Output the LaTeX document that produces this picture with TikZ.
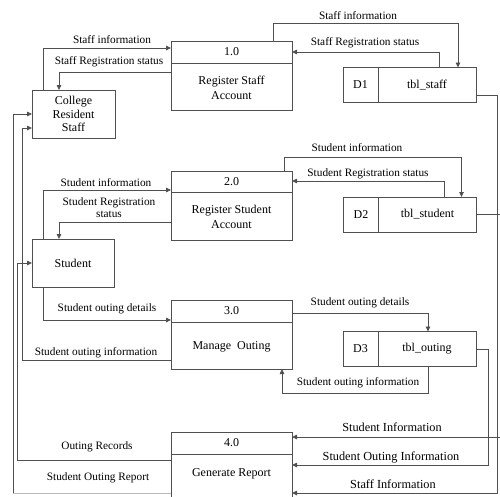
\documentclass[tikz,border=0pt]{standalone}
\usepackage{fontspec}
\setmainfont{Liberation Serif}
\usetikzlibrary{arrows.meta,calc}
\definecolor{linegray}{HTML}{505050}
\definecolor{reportgreen}{HTML}{9FD67F}
\begin{document}
\begin{tikzpicture}[x=1pt,y=1pt,
  line width=0.8pt,
  wire/.style={draw=linegray, -{Triangle[length=5pt,width=4.5pt]}},
  plain/.style={draw=linegray},
  proc/.style={draw=linegray, minimum width=121pt, minimum height=69pt, inner sep=0pt, outer sep=0pt},
  ent/.style={draw=linegray, inner sep=0pt, outer sep=0pt, align=center, font=\fontsize{12}{13.5}\selectfont},
  store/.style={draw=linegray, minimum width=133pt, minimum height=35pt, inner sep=0pt, outer sep=0pt},
  lbl/.style={font=\fontsize{11.3}{12}\selectfont, inner sep=0pt, align=center},
  biglbl/.style={font=\fontsize{12.3}{14}\selectfont, inner sep=0pt},
  boxtxt/.style={font=\fontsize{12}{15}\selectfont, inner sep=0pt, align=center},
]
\useasboundingbox (0,0) rectangle (500,-496);

% external entities
\node[ent, minimum width=83pt, minimum height=48pt] (crs) at (73.5,-114) {College\\Resident\\Staff};
\node[ent, minimum width=82pt, minimum height=48pt] (stu) at (73,-263) {Student};

% processes
\node[proc] (p1) at (231.5,-75.5) {};
\draw[plain] ([yshift=-22pt]p1.north west) -- ([yshift=-22pt]p1.north east);
\node[boxtxt] (p1id) at ([yshift=-11pt]p1.north) {1.0};
\node[boxtxt] (p1name) at ([yshift=22pt]p1.south) {Register Staff\\Account};

\node[proc] (p2) at (231.5,-205.5) {};
\draw[plain] ([yshift=-21pt]p2.north west) -- ([yshift=-21pt]p2.north east);
\node[boxtxt] (p2id) at ([yshift=-10.5pt]p2.north) {2.0};
\node[boxtxt] (p2name) at ([yshift=23pt]p2.south) {Register Student\\Account};

\node[proc] (p3) at (231.5,-334.5) {};
\draw[plain] ([yshift=-22pt]p3.north west) -- ([yshift=-22pt]p3.north east);
\node[boxtxt] (p3id) at ([yshift=-11pt]p3.north) {3.0};
\node[boxtxt] (p3name) at ([yshift=22pt]p3.south) {Manage\ \ Outing};

\node[proc] (p4) at (231.5,-466.5) {};
\draw[plain] ([yshift=-22pt]p4.north west) -- ([yshift=-22pt]p4.north east);
\node[boxtxt] (p4id) at ([yshift=-11pt]p4.north) {4.0};
\node[boxtxt] (p4name) at ([yshift=-42pt]p4.north) {Generate Report};

% data stores
\node[store] (d1) at (409.5,-85) {};
\draw[plain] ([xshift=35pt]d1.north west) -- ([xshift=35pt]d1.south west);
\node[boxtxt] (d1id) at ($(d1.west)+(17.5,0)$) {D1};
\node[boxtxt] (d1name) at ($(d1.east)+(-49,0)$) {tbl\_staff};

\node[store] (d2) at (410,-214.5) {};
\draw[plain] ([xshift=35pt]d2.north west) -- ([xshift=35pt]d2.south west);
\node[boxtxt] (d2id) at ($(d2.west)+(17.5,0)$) {D2};
\node[boxtxt] (d2name) at ($(d2.east)+(-49,0)$) {tbl\_student};

\node[store] (d3) at (409.5,-349) {};
\draw[plain] ([xshift=35pt]d3.north west) -- ([xshift=35pt]d3.south west);
\node[boxtxt] (d3id) at ($(d3.west)+(17.5,0)$) {D3};
\node[boxtxt] (d3name) at ($(d3.east)+(-49,0)$) {tbl\_outing};

% flows around process 1.0
\draw[wire] ([xshift=11pt]crs.north west) |- ([yshift=-7pt]p1.north west);
\draw[wire] ([yshift=-31pt]p1.north west) -| ([xshift=27pt]crs.north west);
\draw[wire] ([xshift=-19pt]p1.north east) -- ++(0,18) -| ([xshift=-18pt]d1.north east);
\draw[wire] ([xshift=-37pt]d1.north east) |- ([yshift=-11pt]p1.north east);
\node[lbl] (l1) at (112,-40) {Staff information};
\node[lbl] (l2) at (109,-62) {Staff Registration status};
\node[lbl] (l3) at (358,-16) {Staff information};
\node[lbl] (l4) at (365,-43) {Staff Registration status};

% flows around process 2.0
\draw[wire] ([xshift=11pt]stu.north west) |- ([yshift=-19pt]p2.north west);
\draw[wire] ([yshift=-51pt]p2.north west) -| ([xshift=27pt]stu.north west);
\draw[wire] ([xshift=-8pt]p2.north east) -- ++(0,14) -| ([xshift=-15pt]d2.north east);
\draw[wire] ([xshift=-32pt]d2.north east) |- ([yshift=-10pt]p2.north east);
\node[lbl] (l5) at (106,-183) {Student information};
\node[lbl] (l6) at (109,-208) {Student Registration\\status};
\node[lbl] (l7) at (357,-148) {Student information};
\node[lbl] (l8) at (368,-174) {Student Registration status};

% flows around process 3.0
\draw[wire] ([xshift=11pt]stu.south west) |- ([yshift=-20pt]p3.north west);
\draw[wire] ([yshift=9pt]p3.south west) -- ++(-149,0) |- ([yshift=10pt]crs.south west);
\draw[wire] ([yshift=-13pt]p3.north east) -| ([xshift=-48pt]d3.north east);
\draw[wire] ([xshift=-48pt]d3.south east) -- ++(0,-27) -| ([xshift=-10pt]p3.south east);
\node[lbl] (l9) at (107,-309) {Student outing details};
\node[lbl] (l10) at (96,-353) {Student outing information};
\node[lbl] (l11) at (360,-303) {Student outing details};
\node[lbl] (l12) at (358,-383) {Student outing information};

% flows around process 4.0
\draw[wire] ([yshift=-28pt]p4.north west) -- ++(-154,0) |- (stu.west);
\coordinate (rptcorner) at ([xshift=-158pt,yshift=-61pt]p4.north west);
\draw[draw=reportgreen] ([yshift=-61pt]p4.north west) -- (rptcorner);
\draw[wire] (rptcorner) |- (crs.west);
\draw[wire] (d2.east) -- ++(23.5,0) |- ([yshift=-5pt]p4.north east);
\draw[wire] (d3.east) -- ++(12,0) |- ([yshift=-33pt]p4.north east);
\draw[wire] ([yshift=-10pt]d1.east) -- ++(21,0) |- ([yshift=-61pt]p4.north east);
\node[lbl] (l13) at (97,-447) {Outing Records};
\node[lbl] (l14) at (98,-478) {Student Outing Report};
\node[biglbl] (l15) at (392,-427) {Student Information};
\node[biglbl] (l16) at (391,-457) {Student Outing Information};
\node[biglbl] (l17) at (393,-484) {Staff Information};
\end{tikzpicture}
\end{document}
